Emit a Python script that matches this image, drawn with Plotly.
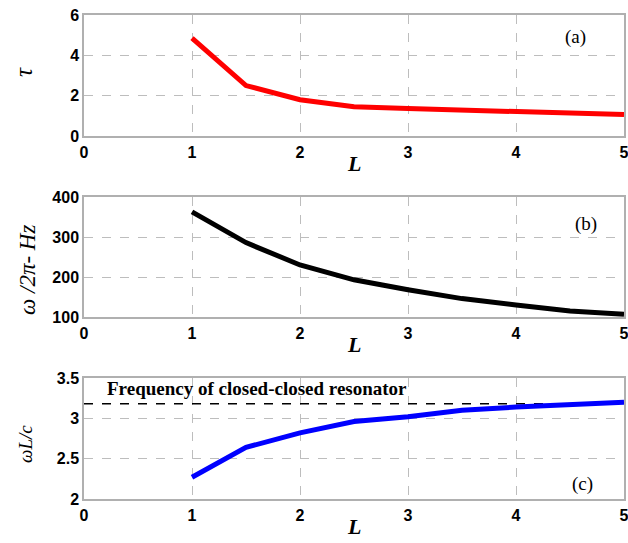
import plotly.graph_objects as go

L_vals = [1, 1.5, 2, 2.5, 3, 3.5, 4, 4.5, 5]
tau_vals = [4.85, 2.5, 1.8, 1.45, 1.36, 1.29, 1.23, 1.12, 1.06]
freq_vals = [363, 286, 230, 193, 168, 146, 130, 115, 107]
wLc_vals = [2.27, 2.64, 2.82, 2.96, 3.02, 3.10, 3.14, 3.17, 3.20]
closed_freq = 3.18

x_ticks = [0, 1, 2, 3, 4, 5]

fig = go.Figure()

W, H = 628, 543
L_M, R_M = 84, 4
top, bot = 15, 543 - 499
ph = H - top - bot

def dom(t, b):
    return [(H - bot - b) / ph, (H - bot - t) / ph]

fig.add_trace(go.Scatter(x=L_vals, y=tau_vals, mode="lines",
                         line=dict(color="#ff0000", width=5), xaxis="x", yaxis="y"))
fig.add_trace(go.Scatter(x=L_vals, y=freq_vals, mode="lines",
                         line=dict(color="#000000", width=5), xaxis="x2", yaxis="y2"))
fig.add_trace(go.Scatter(x=[0, 5], y=[closed_freq, closed_freq], mode="lines",
                         line=dict(color="#000000", width=1.5, dash="dash"), xaxis="x3", yaxis="y3"))
fig.add_trace(go.Scatter(x=L_vals, y=wLc_vals, mode="lines",
                         line=dict(color="#0000ff", width=5), xaxis="x3", yaxis="y3"))

tickfont = dict(family="Liberation Sans, Arial", size=16, color="black", weight="bold")
grid = dict(showgrid=True, gridcolor="#bdbdbd", griddash="dash", gridwidth=1,
            showline=True, linecolor="#b0b0b0", linewidth=1.5, mirror=True,
            zeroline=False, ticks="", tickfont=tickfont, automargin=False,
            ticklabeloverflow="allow")

xcommon = dict(range=[0, 5], tickvals=x_ticks, ticktext=[str(v) for v in x_ticks],
               ticklabelstandoff=1, **grid)

fig.update_layout(
    xaxis=dict(domain=[0, 1], anchor="y", **xcommon),
    xaxis2=dict(domain=[0, 1], anchor="y2", **xcommon),
    xaxis3=dict(domain=[0, 1], anchor="y3", **xcommon),
    yaxis=dict(domain=dom(15, 136), anchor="x", range=[0, 6], tickvals=[0, 2, 4, 6],
               ticktext=["0", "2", "4", "6"], **grid),
    yaxis2=dict(domain=dom(197, 317), anchor="x2", range=[100, 400], tickvals=[100, 200, 300, 400],
                ticktext=["100", "200", "300", "400"], **grid),
    yaxis3=dict(domain=dom(378, 499), anchor="x3", range=[2, 3.5], tickvals=[2, 2.5, 3, 3.5],
                ticktext=["2", "2.5", "3", "3.5"], **grid),
    width=W, height=H,
    margin=dict(l=L_M, r=R_M, t=top, b=bot),
    paper_bgcolor="white", plot_bgcolor="white",
    showlegend=False,
)

serif_i = "Liberation Serif, Times New Roman"

def px_x(xw):
    return (xw - L_M) / (W - L_M - R_M)

def px_y(yw):
    return (H - bot - yw) / ph

# x-axis titles
for yw in [163, 344, 526]:
    fig.add_annotation(x=2.5, xref="x", y=px_y(yw), yref="paper", text="<b><i>L</i></b>",
                       showarrow=False, yanchor="middle",
                       font=dict(family=serif_i, size=22, color="black"))

# y-axis titles
fig.add_annotation(x=px_x(23), y=px_y(72), xref="paper", yref="paper", text="<i>τ</i>",
                   textangle=-90, showarrow=False, xanchor="center", yanchor="middle",
                   font=dict(family=serif_i, size=25, color="black"))
fig.add_annotation(x=px_x(27), y=px_y(270), xref="paper", yref="paper", text="<i>ω /2π- Hz</i>",
                   textangle=-90, showarrow=False, xanchor="center", yanchor="middle",
                   font=dict(family=serif_i, size=23, color="black"))
fig.add_annotation(x=px_x(25), y=px_y(444), xref="paper", yref="paper", text="<i>ωL/c</i>",
                   textangle=-90, showarrow=False, xanchor="center", yanchor="middle",
                   font=dict(family=serif_i, size=19, color="black"))

serif = dict(family=serif_i, size=19, color="black")
fig.add_annotation(x=4.55, y=4.9, xref="x", yref="y", text="(a)", showarrow=False, font=serif)
fig.add_annotation(x=4.65, y=332, xref="x2", yref="y2", text="(b)", showarrow=False, font=serif)
fig.add_annotation(x=4.62, y=2.18, xref="x3", yref="y3", text="(c)", showarrow=False, font=serif)
fig.add_annotation(x=0.19, y=3.37, xref="x3", yref="y3", xanchor="left",
                   text="<b>Frequency of closed-closed resonator</b>", showarrow=False,
                   font=dict(family=serif_i, size=19, color="black"))

fig.write_html("out.html", config={"displayModeBar": False},
               post_script="document.body.style.margin='0';document.body.style.overflow='hidden';")
